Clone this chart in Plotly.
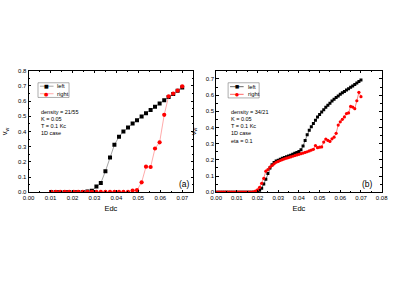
import plotly.graph_objects as go

# ---- Panel (a) data ----
a_x = [0.0103, 0.0124, 0.0144, 0.0165, 0.0185, 0.0206, 0.0226, 0.0247, 0.0268, 0.0288,
       0.0309, 0.0329, 0.0350, 0.0371, 0.0391, 0.0412, 0.0432, 0.0453, 0.0474, 0.0494,
       0.0515, 0.0535, 0.0556, 0.0576, 0.0597, 0.0618, 0.0638, 0.0659, 0.0679, 0.0700]
a_left = [0.001, 0.001, 0.001, 0.001, 0.001, 0.001, 0.001, 0.001, 0.004, 0.009,
          0.037, 0.060, 0.138, 0.228, 0.312, 0.366, 0.400, 0.426, 0.452, 0.475,
          0.499, 0.520, 0.542, 0.563, 0.585, 0.606, 0.628, 0.648, 0.668, 0.690]
a_right = [0.002, 0.002, 0.002, 0.002, 0.002, 0.002, 0.002, 0.002, 0.002, 0.002,
           0.002, 0.002, 0.002, 0.002, 0.002, 0.002, 0.002, 0.002, 0.011, 0.013,
           0.065, 0.168, 0.166, 0.288, 0.329, 0.510, 0.632, 0.650, 0.669, 0.697]

# ---- Panel (b) data ----
b_x = [0.000, 0.001, 0.002, 0.003, 0.004, 0.005, 0.006, 0.007, 0.008, 0.009,
       0.010, 0.011, 0.012, 0.013, 0.014, 0.015, 0.016, 0.017, 0.018, 0.019,
       0.020, 0.021, 0.022, 0.023, 0.024, 0.025, 0.026, 0.027, 0.028, 0.029,
       0.030, 0.031, 0.032, 0.033, 0.034, 0.035, 0.036, 0.037, 0.038, 0.039,
       0.040, 0.041, 0.042, 0.043, 0.044, 0.045, 0.046, 0.047, 0.048, 0.049,
       0.050, 0.051, 0.052, 0.053, 0.054, 0.055, 0.056, 0.057, 0.058, 0.059,
       0.060, 0.061, 0.062, 0.063, 0.064, 0.065, 0.066, 0.067, 0.068, 0.069,
       0.070]
b_left = [0, 0, 0, 0, 0, 0, 0, 0, 0, 0,
          0, 0, 0, 0, 0, 0, 0, 0, 0, 0,
          0.003, 0.012, 0.025, 0.050, 0.080, 0.115, 0.150, 0.170, 0.183, 0.192,
          0.198, 0.204, 0.209, 0.214, 0.219, 0.224, 0.229, 0.234, 0.240, 0.245,
          0.252, 0.262, 0.285, 0.320, 0.355, 0.383, 0.405, 0.425, 0.445, 0.465,
          0.480, 0.495, 0.510, 0.525, 0.538, 0.550, 0.563, 0.575, 0.585, 0.595,
          0.605, 0.614, 0.622, 0.631, 0.640, 0.648, 0.657, 0.666, 0.675, 0.684,
          0.693]
b_right = [0, 0, 0, 0, 0, 0, 0, 0, 0, 0,
           0, 0, 0, 0, 0, 0, 0, 0, 0.002, 0.006,
           0.015, 0.030, 0.055, 0.085, 0.130, 0.140, 0.155, 0.165, 0.175, 0.185,
           0.190, 0.196, 0.201, 0.206, 0.210, 0.214, 0.218, 0.222, 0.226, 0.230,
           0.234, 0.238, 0.242, 0.246, 0.250, 0.255, 0.260, 0.265, 0.288, 0.275,
           0.278, 0.280, 0.310, 0.328, 0.320, 0.314, 0.330, 0.340, 0.364, 0.415,
           0.435, 0.450, 0.465, 0.486, 0.490, 0.530, 0.526, 0.516, 0.565, 0.617,
           0.590]

a_x_ticks = [0.00, 0.01, 0.02, 0.03, 0.04, 0.05, 0.06, 0.07]
b_x_ticks = [0.00, 0.01, 0.02, 0.03, 0.04, 0.05, 0.06, 0.07, 0.08]
a_y_ticks = [0.0, 0.1, 0.2, 0.3, 0.4, 0.5, 0.6, 0.7, 0.8]
b_y_ticks = [0.0, 0.1, 0.2, 0.3, 0.4, 0.5, 0.6, 0.7]

a_info = ["density = 21/55", "K = 0.05", "T = 0.1 Kc", "1D case"]
b_info = ["density = 34/21", "K = 0.05", "T = 0.1 Kc", "1D case", "eta = 0.1"]
series_names = ["left", "right"]

FONT = "Liberation Sans, Arial, sans-serif"
W, H = 399, 282


def px_x(p):
    return p / W


def px_y(p):
    return 1 - p / H


fig = go.Figure()

fig.add_trace(go.Scatter(x=a_x, y=a_left, mode="lines+markers", name=series_names[0],
                         line=dict(color="#666666", width=0.6),
                         marker=dict(symbol="square", size=4, color="black"),
                         xaxis="x", yaxis="y", showlegend=False))
fig.add_trace(go.Scatter(x=a_x, y=a_right, mode="lines+markers", name=series_names[1],
                         line=dict(color="#ff7070", width=0.6),
                         marker=dict(symbol="circle", size=4.2, color="red"),
                         xaxis="x", yaxis="y", showlegend=False))
fig.add_trace(go.Scatter(x=b_x, y=b_left, mode="lines+markers", name=series_names[0],
                         line=dict(color="black", width=0.5),
                         marker=dict(symbol="square", size=3, color="black"),
                         xaxis="x2", yaxis="y2", showlegend=False))
fig.add_trace(go.Scatter(x=b_x, y=b_right, mode="lines+markers", name=series_names[1],
                         line=dict(color="red", width=0.5),
                         marker=dict(symbol="circle", size=3.2, color="red"),
                         xaxis="x2", yaxis="y2", showlegend=False))

ydom = [px_y(193.3), px_y(69.3)]

TICKF = dict(family=FONT, size=6, color="black")
TITLEF = dict(family=FONT, size=7.5, color="black")


def axis(**kw):
    d = dict(showline=True, linecolor="black", linewidth=0.9, mirror="ticks",
             ticks="inside", ticklen=2.5, tickwidth=0.7, tickcolor="black",
             showgrid=False, zeroline=False, tickfont=TICKF)
    d.update(kw)
    return d


fig.update_layout(
    width=W, height=H,
    margin=dict(l=0, r=0, t=0, b=0),
    paper_bgcolor="white", plot_bgcolor="white",
    font=dict(family=FONT, color="black"),
    showlegend=False,
    xaxis=axis(domain=[px_x(23.3), px_x(193.0)], range=[0, 0.075], anchor="y",
               tickvals=a_x_ticks, ticktext=[f"{v:.2f}" for v in a_x_ticks],
               minor=dict(ticks="inside", ticklen=1.5, tickwidth=0.5, tickcolor="black",
                          tickvals=[0.005, 0.015, 0.025, 0.035, 0.045, 0.055, 0.065]),
               title=dict(text="Edc", font=TITLEF, standoff=5)),
    yaxis=axis(domain=ydom, range=[0, 0.8], anchor="x",
               tickvals=a_y_ticks, ticktext=[f"{v:.1f}" for v in a_y_ticks],
               minor=dict(ticks="inside", ticklen=1.5, tickwidth=0.5, tickcolor="black",
                          tickvals=[0.05, 0.15, 0.25, 0.35, 0.45, 0.55, 0.65, 0.75]),
               title=dict(text="v<sub>w</sub>", font=TITLEF, standoff=9)),
    xaxis2=axis(domain=[px_x(216.7), px_x(387.3)], range=[0, 0.08], anchor="y2",
                tickvals=b_x_ticks, ticktext=[f"{v:.2f}" for v in b_x_ticks],
                minor=dict(ticks="inside", ticklen=1.5, tickwidth=0.5, tickcolor="black",
                           tickvals=[0.005, 0.015, 0.025, 0.035, 0.045, 0.055, 0.065, 0.075]),
                title=dict(text="Edc", font=TITLEF, standoff=5)),
    yaxis2=axis(domain=ydom, range=[0, 0.75], anchor="x2",
                tickvals=b_y_ticks, ticktext=[f"{v:.1f}" for v in b_y_ticks],
                minor=dict(ticks="inside", ticklen=1.5, tickwidth=0.5, tickcolor="black",
                           tickvals=[0.05, 0.15, 0.25, 0.35, 0.45, 0.55, 0.65]),
                title=dict(text="v<sub>w</sub>", font=TITLEF, standoff=8)),
)


def add_legend(x0, x1, y0, y1, rows, line0, line1, mark_x, text_x, styles):
    fig.add_shape(type="rect", xref="paper", yref="paper",
                  x0=px_x(x0), x1=px_x(x1), y0=px_y(y1), y1=px_y(y0),
                  line=dict(color="#777777", width=0.6), fillcolor="white", layer="above")
    for name, ry, (lcol, glyph, gcol, gsize) in zip(series_names, rows, styles):
        fig.add_shape(type="line", xref="paper", yref="paper",
                      x0=px_x(line0), x1=px_x(line1), y0=px_y(ry), y1=px_y(ry),
                      line=dict(color=lcol, width=0.6), layer="above")
        fig.add_annotation(x=px_x(mark_x), y=px_y(ry), xref="paper", yref="paper",
                           showarrow=False, text=glyph, xanchor="center", yanchor="middle",
                           font=dict(family="DejaVu Sans", size=gsize, color=gcol))
        fig.add_annotation(x=px_x(text_x), y=px_y(ry), xref="paper", yref="paper",
                           showarrow=False, text=name, xanchor="left", yanchor="middle",
                           font=dict(family=FONT, size=5.8, color="black"))


styles_a = [("#666666", "■", "black", 5), ("#ff7070", "●", "red", 5)]
styles_b = [("black", "■", "black", 4.5), ("red", "●", "red", 4.5)]
add_legend(33, 65, 81.5, 96.5, [85, 92.7], 35, 49, 42, 51, styles_a)
add_legend(229, 261, 81.5, 97, [85.5, 93.3], 231, 245, 238, 247.5, styles_b)


def add_info(lines, x, y_first):
    for i, t in enumerate(lines):
        fig.add_annotation(x=px_x(x), y=px_y(y_first + 7.4 * i), xref="paper", yref="paper",
                           showarrow=False, text=t, xanchor="left", yanchor="middle",
                           font=dict(family=FONT, size=5.5, color="black"))


add_info(a_info, 34.5, 111)
add_info(b_info, 230, 111)

fig.add_annotation(x=px_x(184), y=px_y(185), xref="paper", yref="paper",
                   showarrow=False, text="(a)", font=dict(family=FONT, size=8.5, color="black"))
fig.add_annotation(x=px_x(380), y=px_y(185), xref="paper", yref="paper",
                   showarrow=False, text="(b)", font=dict(family=FONT, size=8.5, color="black"))

fig.write_html("out.html",
               config={"displayModeBar": False},
               post_script="document.body.style.margin='0';document.body.style.overflow='hidden';")
